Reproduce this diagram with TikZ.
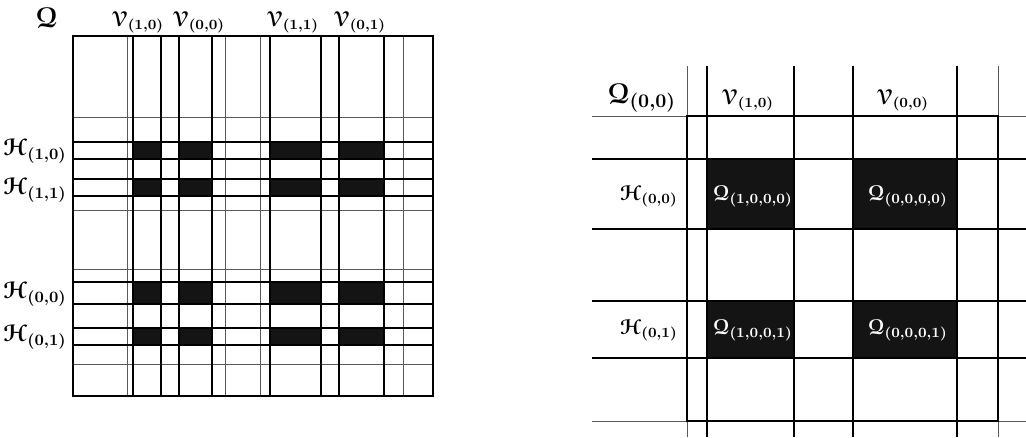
\documentclass[tikz,border=0pt]{standalone}
\usepackage{amsmath, amssymb}
\usepackage[mathcal]{eucal}
\usetikzlibrary{positioning}

\begin{document}
\begin{tikzpicture}[x=0.02cm, y=-0.02cm,
    heavy/.style={line width=1.1pt, black},
    light/.style={line width=0.5pt, black!65},
    cell/.style={fill=black!92},
    lab/.style={inner sep=0pt, font=\large\boldmath},
    celllab/.style={inner sep=0pt, font=\large\boldmath, text=white}]
  \useasboundingbox (0,0) rectangle (1026,438);

  % left matrix
  \foreach \a/\b in {133/161,179/212,270/321,339/384}
    \foreach \c/\d in {142/159,179/196,282/304,328/345}
      \fill[cell] (\a,\c) rectangle (\b,\d);
  \foreach \x in {127,225,260,403}
    \draw[light] (\x,36) -- (\x,396);
  \foreach \y in {117,210,269,364}
    \draw[light] (73,\y) -- (433,\y);
  \foreach \x in {133,161,179,212,270,321,339,384}
    \draw[heavy] (\x,36) -- (\x,396);
  \foreach \y in {142,159,179,196,282,304,328,345}
    \draw[heavy] (73,\y) -- (433,\y);
  \draw[heavy, line width=1.4pt] (73,36) rectangle (433,396);

  \node (Q) [lab, font=\fontsize{16}{18}\selectfont\boldmath] at (47,18) {$\mathcal{Q}$};
  \node (V10) [lab] at (138,22) {$\mathcal{V}_{(1,0)}$};
  \node (V00) [lab] at (199,22) {$\mathcal{V}_{(0,0)}$};
  \node (V11) [lab] at (293,22) {$\mathcal{V}_{(1,1)}$};
  \node (V01) [lab] at (360,22) {$\mathcal{V}_{(0,1)}$};
  \node (H10) [lab, font=\fontsize{13.5}{15}\selectfont\boldmath, anchor=east] at (67,151) {$\mathcal{H}_{(1,0)}$};
  \node (H11) [lab, font=\fontsize{13.5}{15}\selectfont\boldmath, anchor=east] at (67,190) {$\mathcal{H}_{(1,1)}$};
  \node (H00) [lab, font=\fontsize{13.5}{15}\selectfont\boldmath, anchor=east] at (67,294) {$\mathcal{H}_{(0,0)}$};
  \node (H01) [lab, font=\fontsize{13.5}{15}\selectfont\boldmath, anchor=east] at (67,337) {$\mathcal{H}_{(0,1)}$};

  % right block, zoomed
  \foreach \a/\b in {707/794,853/957}
    \foreach \c/\d in {159/229,301/358}
      \fill[cell] (\a,\c) rectangle (\b,\d);
  \foreach \x in {687,998}
    \draw[light] (\x,66) -- (\x,437);
  \foreach \y in {116,421}
    \draw[light] (592,\y) -- (1026,\y);
  \foreach \x in {707,794,853,957}
    \draw[heavy] (\x,66) -- (\x,437);
  \foreach \y in {159,229,301,358}
    \draw[heavy] (592,\y) -- (1026,\y);
  \draw[heavy] (687,116) rectangle (998,421);

  \node (Q00) [lab, font=\fontsize{16}{18}\selectfont\boldmath] at (642,98) {$\mathcal{Q}_{(0,0)}$};
  \node (rV10) [lab] at (748,100) {$\mathcal{V}_{(1,0)}$};
  \node (rV00) [lab] at (903,100) {$\mathcal{V}_{(0,0)}$};
  \node (rH00) [lab, anchor=east] at (678,196) {$\mathcal{H}_{(0,0)}$};
  \node (rH01) [lab, anchor=east] at (678,330) {$\mathcal{H}_{(0,1)}$};
  \node (Q1000) [celllab] at (753,196) {$\mathcal{Q}_{(1,0,0,0)}$};
  \node (Q0000) [celllab] at (908,196) {$\mathcal{Q}_{(0,0,0,0)}$};
  \node (Q1001) [celllab] at (753,330) {$\mathcal{Q}_{(1,0,0,1)}$};
  \node (Q0001) [celllab] at (908,330) {$\mathcal{Q}_{(0,0,0,1)}$};
\end{tikzpicture}
\end{document}
